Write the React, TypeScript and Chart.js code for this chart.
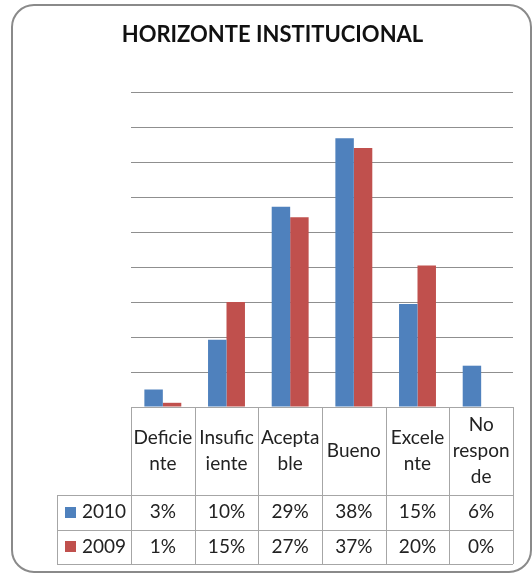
import React, { useEffect, useRef } from "react";
import { Chart, registerables } from "chart.js";

Chart.register(...registerables);

const TITLE = "HORIZONTE INSTITUCIONAL";
const categories = ["Deficiente", "Insuficiente", "Aceptable", "Bueno", "Excelente", "No responde"];
const categoryLines = [["Deficie", "nte"], ["Insufic", "iente"], ["Acepta", "ble"], ["Bueno"], ["Excele", "nte"], ["No", "respon", "de"]];
const seriesNames = ["2010", "2009"];
const values2010 = [2.5, 9.6, 28.6, 38.4, 14.7, 5.9];
const values2009 = [0.6, 15.0, 27.1, 37.0, 20.2, 0.0];
const yMax = 45;
const yStep = 5;

const BLUE = "#4F81BD";
const RED = "#C0504D";
const FONT = "Lato, 'Open Sans', sans-serif";

const framePlugin = {
  id: "frame",
  beforeDraw(chart: any) {
    const ctx = chart.ctx;
    ctx.save();
    ctx.fillStyle = "#ffffff";
    ctx.fillRect(0, 0, chart.width, chart.height);
    const x = 12, y = 5, w = 519, h = 567, r = 22;
    ctx.beginPath();
    ctx.moveTo(x + r, y);
    ctx.lineTo(x + w - r, y);
    ctx.arcTo(x + w, y, x + w, y + r, r);
    ctx.lineTo(x + w, y + h - r);
    ctx.arcTo(x + w, y + h, x + w - r, y + h, r);
    ctx.lineTo(x + r, y + h);
    ctx.arcTo(x, y + h, x, y + h - r, r);
    ctx.lineTo(x, y + r);
    ctx.arcTo(x, y, x + r, y, r);
    ctx.closePath();
    ctx.strokeStyle = "#8a8a8a";
    ctx.lineWidth = 2;
    ctx.stroke();
    ctx.fillStyle = "#111";
    ctx.font = `bold 22px ${FONT}`;
    ctx.textAlign = "center";
    ctx.textBaseline = "middle";
    ctx.fillText(TITLE, 272.5, 34.5);
    ctx.restore();
  },
};

const tablePlugin = {
  id: "datatable",
  afterDraw(chart: any) {
    const ctx = chart.ctx;
    const area = chart.chartArea;
    const xs = chart.scales.x;
    const n = categories.length;
    const cw = (area.right - area.left) / n;
    const top = area.bottom;
    const headerH = 88;
    const rowH = 34.5;
    const legendLeft = 57;
    const rows = [values2010, values2009];
    const colors = [BLUE, RED];
    const bottom = top + headerH + rowH * rows.length;
    ctx.save();
    ctx.strokeStyle = "#a6a6a6";
    ctx.lineWidth = 1;
    ctx.beginPath();
    ctx.moveTo(area.left, Math.round(top) + 0.5);
    ctx.lineTo(area.right, Math.round(top) + 0.5);
    for (let i = 0; i <= rows.length; i++) {
      const yy = Math.round(top + headerH + rowH * i) + 0.5;
      ctx.moveTo(legendLeft, yy);
      ctx.lineTo(area.right, yy);
    }
    for (let i = 0; i <= n; i++) {
      const xx = Math.round(area.left + cw * i) + 0.5;
      ctx.moveTo(xx, top);
      ctx.lineTo(xx, bottom);
    }
    ctx.moveTo(legendLeft + 0.5, top + headerH);
    ctx.lineTo(legendLeft + 0.5, bottom);
    ctx.stroke();

    ctx.fillStyle = "#222";
    ctx.font = `19px ${FONT}`;
    ctx.textAlign = "center";
    ctx.textBaseline = "middle";
    const lineH = 26;
    categoryLines.forEach((lines, i) => {
      const cx = xs.getPixelForValue(i);
      const cy = top + headerH / 2;
      const start = cy - ((lines.length - 1) * lineH) / 2;
      lines.forEach((t, j) => ctx.fillText(t, cx, start + j * lineH));
    });
    rows.forEach((vals, r) => {
      const cy = top + headerH + rowH * r + rowH / 2;
      vals.forEach((v, i) => {
        ctx.fillText(`${Math.round(v)}%`, xs.getPixelForValue(i), cy);
      });
      ctx.fillStyle = colors[r];
      ctx.fillRect(65, Math.round(cy - 5.5), 11, 11);
      ctx.fillStyle = "#222";
      ctx.textAlign = "left";
      ctx.fillText(seriesNames[r], 82, cy);
      ctx.textAlign = "center";
    });
    ctx.restore();
  },
};

export default function App() {
  const ref = useRef<HTMLCanvasElement>(null);
  useEffect(() => {
    if (!ref.current) return;
    const chart = new Chart(ref.current, {
      type: "bar",
      data: {
        labels: categories,
        datasets: [
          { label: seriesNames[0], data: values2010, backgroundColor: BLUE, categoryPercentage: 0.58, barPercentage: 1 },
          { label: seriesNames[1], data: values2009, backgroundColor: RED, categoryPercentage: 0.58, barPercentage: 1 },
        ],
      },
      options: {
        responsive: false,
        animation: false,
        devicePixelRatio: 1,
        layout: { padding: { left: 131, right: 19, top: 92, bottom: 167 } },
        plugins: { legend: { display: false }, title: { display: false }, tooltip: { enabled: false } },
        scales: {
          x: { display: false },
          y: {
            min: 0,
            max: yMax,
            ticks: { stepSize: yStep, display: false },
            grid: { color: "#8f8f8f", drawTicks: false, lineWidth: 1 },
            border: { display: false },
            afterFit: (s: any) => { s.width = 0; },
          },
        },
      },
      plugins: [framePlugin, tablePlugin],
    });
    return () => chart.destroy();
  }, []);
  return (
    <div style={{ position: "fixed", left: 0, top: 0, width: 532, height: 574 }}>
      <canvas ref={ref} width={532} height={574} style={{ display: "block" }} />
    </div>
  );
}
